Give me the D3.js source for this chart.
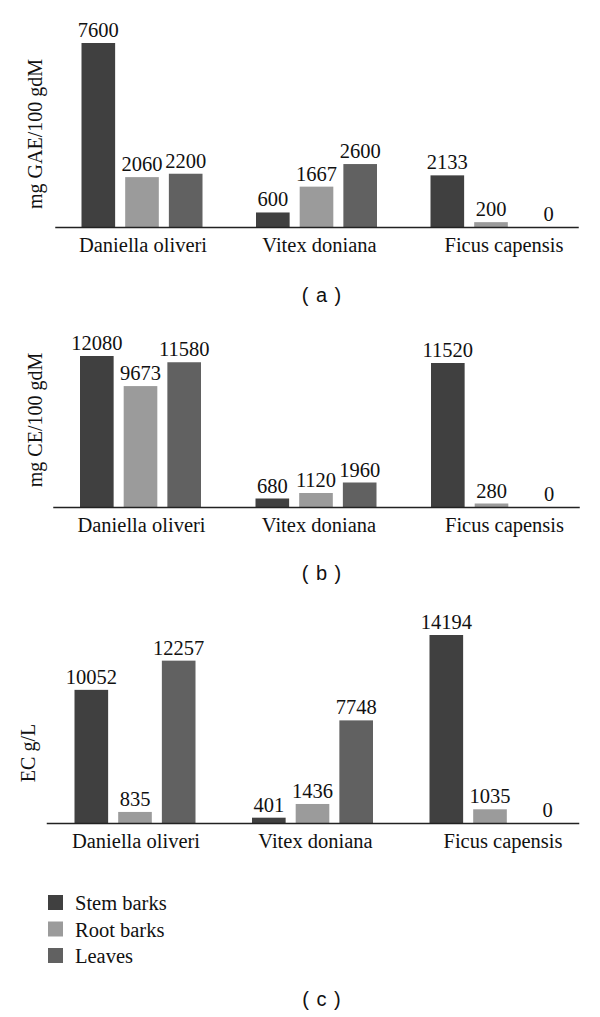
<!DOCTYPE html>
<html>
<head>
<meta charset="utf-8">
<script src="https://cdn.jsdelivr.net/npm/d3@7"></script>
<style>
  body { margin: 0; background: #fff; }
  text { font-family: "Liberation Serif", "DejaVu Serif", serif; fill: #111; }
  .tag { font-family: "Liberation Sans", Arial, sans-serif; }
</style>
</head>
<body>
<script>
// values
const categories = ["Daniella oliveri", "Vitex doniana", "Ficus capensis"];
const seriesNames = ["Stem barks", "Root barks", "Leaves"];

const phenolStem = [7600, 600, 2133];
const phenolRoot = [2060, 1667, 200];
const phenolLeaves = [2200, 2600, 0];

const tanninStem = [12080, 680, 11520];
const tanninRoot = [9673, 1120, 280];
const tanninLeaves = [11580, 1960, 0];

const ecStem = [10052, 401, 14194];
const ecRoot = [835, 1436, 1035];
const ecLeaves = [12257, 7748, 0];

const yTitles = ["mg GAE/100 gdM", "mg CE/100 gdM", "EC g/L"];
const panelTags = ["( a )", "( b )", "( c )"];

const colors = ["#404040", "#9b9b9b", "#616161"];

// layout of each panel (pixels)
const panels = [
  { series: [phenolStem, phenolRoot, phenolLeaves], axisY: 227, topY: 43, x0: 54.75, x1: 578.25, titleX: 42, titleY: 134, tagY: 302 },
  { series: [tanninStem, tanninRoot, tanninLeaves], axisY: 507, topY: 356, x0: 52.75, x1: 579.25, titleX: 42, titleY: 420, tagY: 580 },
  { series: [ecStem, ecRoot, ecLeaves], axisY: 823, topY: 635, x0: 46.25, x1: 578.75, titleX: 35, titleY: 753, tagY: 1006 }
];
const labelNudge = [1, 3, 13];
const fs = 20.5;

let svg = d3.select("body")
            .append("svg")
            .attr("width", 600)
            .attr("height", 1017);

svg.append("rect").attr("width", 600).attr("height", 1017).attr("fill", "#fff");

let xSub = d3.scaleBand()
             .domain(seriesNames)
             .range([-60.5, 60.5])
             .paddingInner(0.23);

panels.forEach(function(p, pi) {
  let maxV = d3.max(p.series, s => d3.max(s));

  let x = d3.scaleBand()
            .domain(categories)
            .range([p.x0, p.x1]);

  let y = d3.scaleLinear()
            .domain([0, maxV])
            .range([p.axisY, p.topY]);

  let g = svg.append("g");

  // bars
  p.series.forEach(function(vals, si) {
    let rows = categories.map((c, ci) => ({ cat: c, v: vals[ci] }));
    let cx = d => x(d.cat) + x.bandwidth() / 2 + xSub(seriesNames[si]);

    g.selectAll(null)
     .data(rows)
     .enter()
     .append("rect")
     .attr("x", cx)
     .attr("y", d => y(d.v))
     .attr("width", xSub.bandwidth())
     .attr("height", d => p.axisY - y(d.v))
     .attr("fill", colors[si]);

    g.selectAll(null)
     .data(rows)
     .enter()
     .append("text")
     .attr("x", d => cx(d) + xSub.bandwidth() / 2 + (d.v == 0 ? 14 : 0))
     .attr("y", d => y(d.v) - 6)
     .attr("text-anchor", "middle")
     .attr("font-size", fs)
     .text(d => d.v);
  });

  // category axis
  let axis = g.append("g")
              .attr("transform", "translate(0," + p.axisY + ")")
              .call(d3.axisBottom(x).tickSize(0).tickSizeOuter(0));
  axis.select(".domain").attr("stroke", "#222").attr("stroke-width", 1.6);
  axis.selectAll(".tick text")
      .attr("font-family", "Liberation Serif")
      .attr("font-size", fs)
      .attr("fill", "#111")
      .attr("dy", null)
      .attr("y", 25)
      .attr("x", (d, i) => labelNudge[i]);

  // y title
  g.append("text")
   .attr("transform", "translate(" + p.titleX + "," + p.titleY + ") rotate(-90)")
   .attr("text-anchor", "middle")
   .attr("font-size", 20)
   .text(yTitles[pi]);

  // panel tag
  g.append("text")
   .attr("class", "tag")
   .attr("x", 322)
   .attr("y", p.tagY)
   .attr("text-anchor", "middle")
   .attr("font-size", 20)
   .attr("letter-spacing", 1)
   .text(panelTags[pi]);
});

// legend
let legend = svg.append("g").attr("transform", "translate(48,895)");
seriesNames.forEach(function(name, i) {
  legend.append("rect")
        .attr("x", 0)
        .attr("y", i * 26.5)
        .attr("width", 15)
        .attr("height", 15)
        .attr("fill", colors[i]);
  legend.append("text")
        .attr("x", 27)
        .attr("y", i * 26.5 + 15)
        .attr("font-size", fs)
        .text(name);
});
</script>
</body>
</html>
